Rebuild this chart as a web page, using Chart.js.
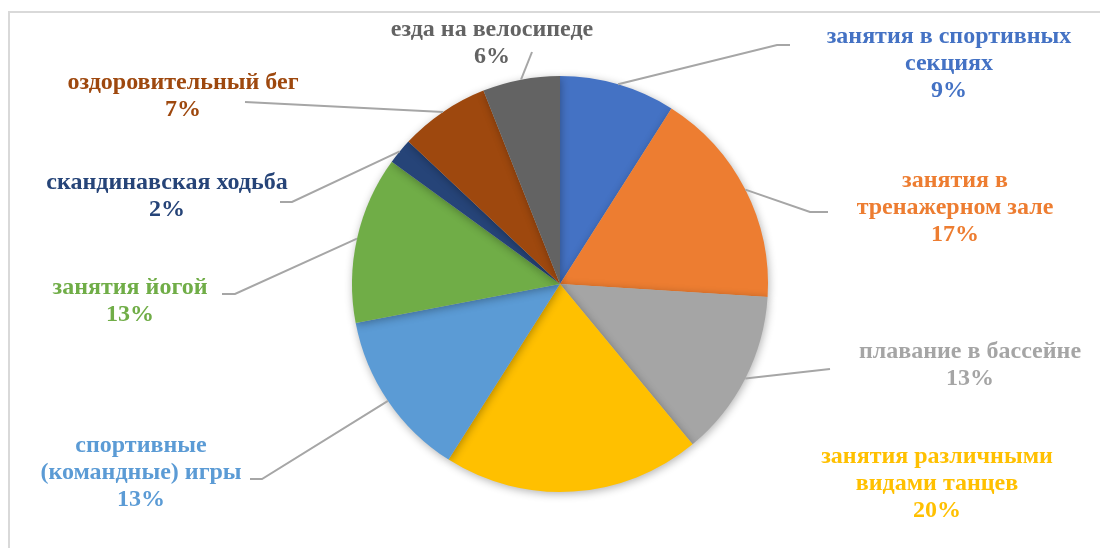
<!DOCTYPE html>
<html>
<head>
<meta charset="utf-8">
<script src="https://cdn.jsdelivr.net/npm/chart.js@4"></script>
<style>
  body { margin: 0; background: #fff; }
  #wrap { width: 1100px; height: 548px; }
</style>
</head>
<body>
<div id="wrap"><canvas id="pie" width="1100" height="548"></canvas></div>
<script>
const categories = [
  ["занятия в спортивных", "секциях"],
  ["занятия в", "тренажерном зале"],
  ["плавание в бассейне"],
  ["занятия различными", "видами танцев"],
  ["спортивные", "(командные) игры"],
  ["занятия йогой"],
  ["скандинавская ходьба"],
  ["оздоровительный бег"],
  ["езда на велосипеде"]
];
const shares = [9, 17, 13, 20, 13, 13, 2, 7, 6];
const colors = ["#4472C4", "#ED7D31", "#A5A5A5", "#FFC000", "#5B9BD5", "#70AD47", "#264478", "#9E480E", "#636363"];

// label layout: text centre x, first line y, leader end point (null = no leader)
const labelPos = [
  { x: 949, y: 37, lead: [[777, 45], [790, 45]] },
  { x: 955, y: 181, lead: [[810, 212], [828, 212]] },
  { x: 970, y: 352, lead: [[830, 369]] },
  { x: 937, y: 457, lead: null },
  { x: 141, y: 446, lead: [[262, 479], [250, 479]] },
  { x: 130, y: 288, lead: [[235, 294], [222, 294]] },
  { x: 167, y: 183, lead: [[292, 202], [280, 202]] },
  { x: 183, y: 83, lead: [[245, 102]] },
  { x: 492, y: 30, lead: [[532, 52]] }
];

const frame = {
  id: "frame",
  beforeDraw(chart) {
    const ctx = chart.ctx;
    ctx.save();
    ctx.strokeStyle = "#d9d9d9";
    ctx.lineWidth = 2;
    ctx.strokeRect(9, 12, 1200, 700);
    ctx.restore();
  },
  beforeDatasetsDraw(chart) {
    const ctx = chart.ctx;
    ctx.save();
    ctx.shadowColor = "rgba(0,0,0,0.3)";
    ctx.shadowBlur = 8;
    ctx.shadowOffsetX = 1;
    ctx.shadowOffsetY = 2;
  },
  afterDatasetsDraw(chart) {
    chart.ctx.restore();
  }
};

const labels = {
  id: "labels",
  afterDraw(chart) {
    const ctx = chart.ctx;
    const arcs = chart.getDatasetMeta(0).data;
    ctx.save();
    arcs.forEach((arc, i) => {
      const p = labelPos[i];
      const { x, y, startAngle, endAngle, outerRadius } = arc.getProps(["x", "y", "startAngle", "endAngle", "outerRadius"], true);
      const mid = (startAngle + endAngle) / 2;
      if (p.lead) {
        ctx.strokeStyle = "#a6a6a6";
        ctx.lineWidth = 2;
        ctx.beginPath();
        ctx.moveTo(x + Math.cos(mid) * outerRadius, y + Math.sin(mid) * outerRadius);
        p.lead.forEach(pt => ctx.lineTo(pt[0], pt[1]));
        ctx.stroke();
      }
      const lines = [...categories[i], shares[i] + "%"];
      ctx.fillStyle = colors[i];
      ctx.font = "bold 24px 'Liberation Serif', 'Times New Roman', serif";
      ctx.textAlign = "center";
      ctx.textBaseline = "middle";
      lines.forEach((t, k) => ctx.fillText(t, p.x, p.y + k * 27));
    });
    ctx.restore();
  }
};

new Chart(document.getElementById("pie"), {
  type: "pie",
  data: {
    labels: categories.map(c => c.join(" ")),
    datasets: [{
      data: shares,
      backgroundColor: colors,
      borderWidth: 0
    }]
  },
  options: {
    responsive: false,
    animation: false,
    layout: { padding: { top: 76, bottom: 56, left: 300, right: 280 } },
    plugins: {
      legend: { display: false },
      tooltip: { enabled: false }
    }
  },
  plugins: [frame, labels]
});
</script>
</body>
</html>
